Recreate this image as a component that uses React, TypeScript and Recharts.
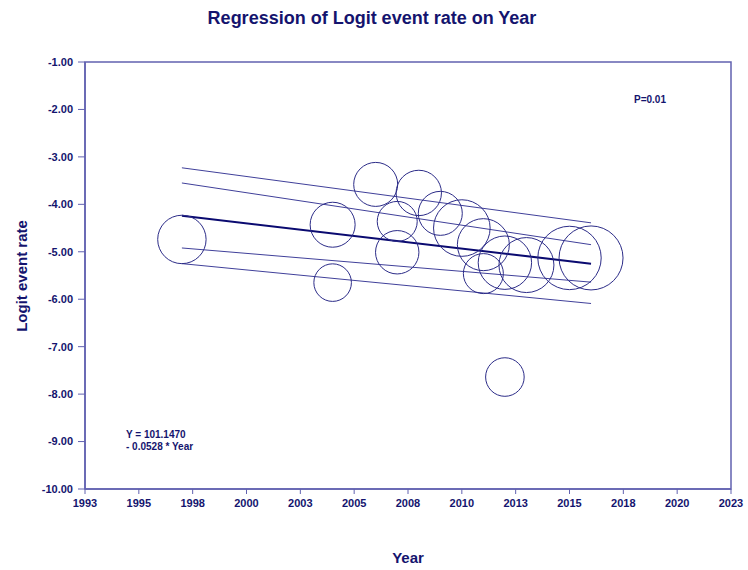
import React from 'react';
import { ScatterChart, Scatter, XAxis, YAxis, ZAxis, ReferenceArea } from 'recharts';

// studies: year, logit event rate, relative weight (bubble area)
const studyYears = [1997, 2004, 2004, 2006, 2007, 2007, 2008, 2009, 2010, 2011, 2011, 2012, 2012, 2013, 2015, 2016];
const studyLogit = [-4.74, -4.43, -5.65, -3.58, -4.36, -5.01, -3.76, -4.19, -4.5, -4.85, -5.46, -5.23, -7.64, -5.28, -5.13, -5.13];
const studyWeight = [5.86, 5.06, 3.53, 4.84, 4.0, 4.71, 5.15, 4.84, 8.01, 6.76, 4.0, 7.13, 3.72, 7.56, 10.05, 10.24];

// regression line and interval limits at the first / last year
const lineYears = [1997, 2016];
const regression = [-4.24, -5.25];
const upperOuter = [-3.23, -4.39];
const upperInner = [-3.55, -4.85];
const lowerInner = [-4.92, -5.64];
const lowerOuter = [-5.25, -6.09];

const xTicks = [1992.5, 1995, 1997.5, 2000, 2002.5, 2005, 2007.5, 2010, 2012.5, 2015, 2017.5, 2020, 2022.5];
const xTickLabels = ['1993', '1995', '1998', '2000', '2003', '2005', '2008', '2010', '2013', '2015', '2018', '2020', '2023'];
const yTicks = [-10, -9, -8, -7, -6, -5, -4, -3, -2, -1];

const NAVY = '#14146e';
const AXIS = '#6262b0';
const FONT = '"Liberation Sans", Arial, sans-serif';

// the chart fills the whole 748x570 page
if (typeof document !== 'undefined') document.body.style.margin = '0';

const studies = studyYears.map((x, i) => ({ x, y: studyLogit[i], w: studyWeight[i] }));
const toLine = (vals: number[]) => lineYears.map((x, i) => ({ x, y: vals[i] }));

const Bubble = (props: any) => {
    const r = props.width ? props.width / 2 : Math.sqrt((props.size || 0) / Math.PI);
    return <circle cx={props.cx} cy={props.cy} r={r} fill="none" stroke="#2c2c88" strokeWidth={1} />;
};
const NoDot = () => <g />;

const tickStyle = { fill: NAVY, fontSize: 11, fontWeight: 'bold' as const, fontFamily: FONT };

export default function App() {
    return (
        <div style={{ position: 'relative', width: 748, height: 570, overflow: 'hidden', fontFamily: FONT, color: NAVY, fontWeight: 'bold' }}>
            <ScatterChart width={748} height={570} margin={{ top: 62, right: 17, bottom: 51, left: 25 }}>
                <XAxis
                    type="number"
                    dataKey="x"
                    domain={[1992.5, 2022.5]}
                    ticks={xTicks}
                    allowDataOverflow
                    height={30}
                    tickSize={5}
                    tickMargin={5}
                    tick={tickStyle}
                    tickFormatter={(v, i) => xTickLabels[i] ?? String(v)}
                    axisLine={{ stroke: AXIS, strokeWidth: 1.5 }}
                    tickLine={{ stroke: AXIS }}
                />
                <YAxis
                    type="number"
                    dataKey="y"
                    domain={[-10, -1]}
                    ticks={yTicks}
                    allowDataOverflow
                    width={60}
                    tickSize={7}
                    tickMargin={5}
                    tick={tickStyle}
                    tickFormatter={(v) => Number(v).toFixed(2)}
                    axisLine={{ stroke: AXIS, strokeWidth: 1.5 }}
                    tickLine={{ stroke: AXIS }}
                />
                <ZAxis type="number" dataKey="w" domain={[0, 10.24]} range={[0, Math.PI * 32 * 32]} />
                <ReferenceArea x1={1992.5} x2={2022.5} y1={-10} y2={-1} fill="none" stroke={AXIS} strokeWidth={1.5} ifOverflow="visible" />
                <Scatter data={toLine(upperOuter)} line={{ stroke: '#40409a', strokeWidth: 1 }} shape={NoDot} isAnimationActive={false} />
                <Scatter data={toLine(upperInner)} line={{ stroke: '#40409a', strokeWidth: 1 }} shape={NoDot} isAnimationActive={false} />
                <Scatter data={toLine(lowerInner)} line={{ stroke: '#40409a', strokeWidth: 1 }} shape={NoDot} isAnimationActive={false} />
                <Scatter data={toLine(lowerOuter)} line={{ stroke: '#40409a', strokeWidth: 1 }} shape={NoDot} isAnimationActive={false} />
                <Scatter data={toLine(regression)} line={{ stroke: '#0a0a70', strokeWidth: 2 }} shape={NoDot} isAnimationActive={false} />
                <Scatter data={studies} shape={Bubble} isAnimationActive={false} />
            </ScatterChart>

            <div style={{ position: 'absolute', left: 372, top: 18, transform: 'translate(-50%, -50%)', fontSize: 18, whiteSpace: 'nowrap' }}>
                Regression of Logit event rate on Year
            </div>
            <div style={{ position: 'absolute', left: 21, top: 276, transform: 'translate(-50%, -50%) rotate(-90deg)', fontSize: 15, whiteSpace: 'nowrap' }}>
                Logit event rate
            </div>
            <div style={{ position: 'absolute', left: 408, top: 557, transform: 'translate(-50%, -50%)', fontSize: 15, whiteSpace: 'nowrap' }}>
                Year
            </div>
            <div style={{ position: 'absolute', left: 634, top: 99, transform: 'translateY(-50%)', fontSize: 10, whiteSpace: 'nowrap' }}>
                P=0.01
            </div>
            <div style={{ position: 'absolute', left: 126, top: 429, fontSize: 10, lineHeight: '12px', whiteSpace: 'nowrap' }}>
                <div>Y = 101.1470</div>
                <div>- 0.0528 * Year</div>
            </div>
        </div>
    );
}
